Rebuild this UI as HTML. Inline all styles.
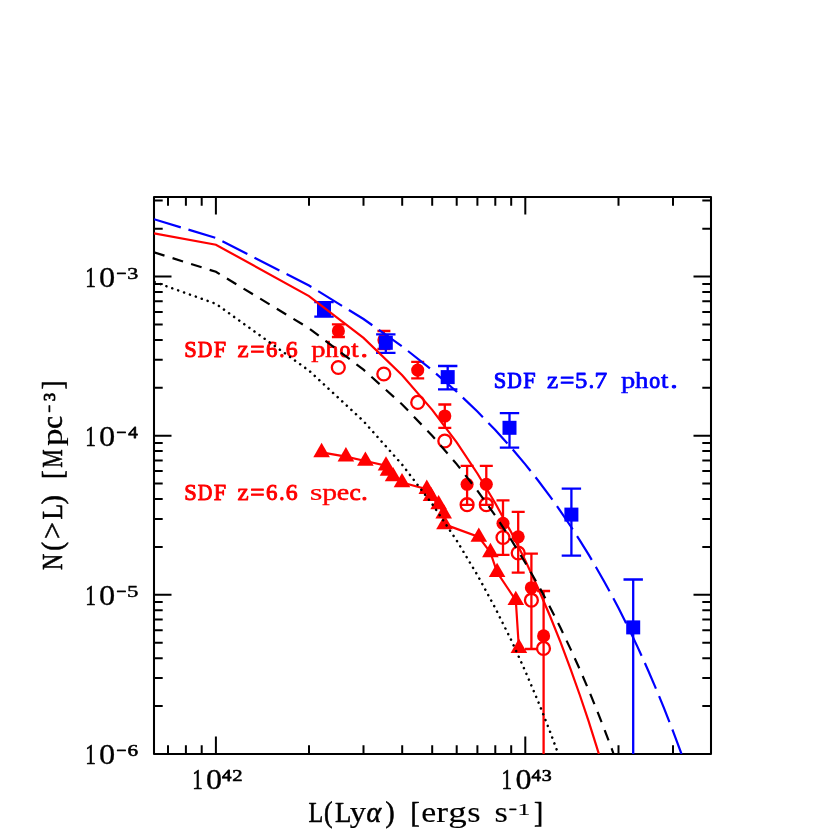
<!DOCTYPE html><html><head><meta charset="utf-8"><title>Cumulative Ly-alpha luminosity function</title><style>html,body{margin:0;padding:0;background:#fff}svg{display:block;will-change:transform}text{font-family:"Liberation Serif",serif}</style></head><body>
<svg width="830" height="830" viewBox="0 0 830 830">
<rect width="830" height="830" fill="#fff"/>
<text fill="#f00" stroke="#f00" stroke-linejoin="round"><tspan x="184.20" y="356.80" textLength="12.50" lengthAdjust="spacingAndGlyphs" font-size="23.5px" stroke-width="1.00">S</tspan><tspan x="197.72" y="356.80" textLength="14.59" lengthAdjust="spacingAndGlyphs" font-size="23.5px" stroke-width="1.00">D</tspan><tspan x="213.76" y="356.80" textLength="12.34" lengthAdjust="spacingAndGlyphs" font-size="23.5px" stroke-width="1.00">F</tspan> <tspan x="237.53" y="356.80" textLength="11.17" lengthAdjust="spacingAndGlyphs" font-size="23.5px" stroke-width="0.80">z</tspan><tspan x="250.34" y="356.80" textLength="14.30" lengthAdjust="spacingAndGlyphs" font-size="23.5px" stroke-width="1.00">=</tspan><tspan x="266.01" y="356.80" textLength="11.47" lengthAdjust="spacingAndGlyphs" font-size="23.5px" stroke-width="1.00">6</tspan><tspan x="279.21" y="356.80" textLength="5.29" lengthAdjust="spacingAndGlyphs" font-size="23.5px" stroke-width="1.00">.</tspan><tspan x="285.67" y="356.80" textLength="11.85" lengthAdjust="spacingAndGlyphs" font-size="23.5px" stroke-width="0.98">6</tspan> <tspan x="311.37" y="356.80" textLength="14.31" lengthAdjust="spacingAndGlyphs" font-size="23.5px" stroke-width="0.47">p</tspan><tspan x="325.36" y="356.80" textLength="13.38" lengthAdjust="spacingAndGlyphs" font-size="23.5px" stroke-width="0.64">h</tspan><tspan x="339.57" y="356.80" textLength="10.85" lengthAdjust="spacingAndGlyphs" font-size="23.5px" stroke-width="1.00">o</tspan><tspan x="351.39" y="356.80" textLength="7.33" lengthAdjust="spacingAndGlyphs" font-size="23.5px" stroke-width="0.69">t</tspan><tspan x="360.86" y="356.80" textLength="6.98" lengthAdjust="spacingAndGlyphs" font-size="23.5px" stroke-width="1.00">.</tspan></text>
<text fill="#f00" stroke="#f00" stroke-linejoin="round"><tspan x="184.20" y="499.50" textLength="12.50" lengthAdjust="spacingAndGlyphs" font-size="23.5px" stroke-width="1.00">S</tspan><tspan x="197.72" y="499.50" textLength="14.59" lengthAdjust="spacingAndGlyphs" font-size="23.5px" stroke-width="1.00">D</tspan><tspan x="213.76" y="499.50" textLength="12.34" lengthAdjust="spacingAndGlyphs" font-size="23.5px" stroke-width="1.00">F</tspan> <tspan x="237.53" y="499.50" textLength="11.17" lengthAdjust="spacingAndGlyphs" font-size="23.5px" stroke-width="0.80">z</tspan><tspan x="250.34" y="499.50" textLength="14.30" lengthAdjust="spacingAndGlyphs" font-size="23.5px" stroke-width="1.00">=</tspan><tspan x="266.01" y="499.50" textLength="11.47" lengthAdjust="spacingAndGlyphs" font-size="23.5px" stroke-width="1.00">6</tspan><tspan x="279.21" y="499.50" textLength="5.29" lengthAdjust="spacingAndGlyphs" font-size="23.5px" stroke-width="1.00">.</tspan><tspan x="285.67" y="499.50" textLength="11.85" lengthAdjust="spacingAndGlyphs" font-size="23.5px" stroke-width="0.98">6</tspan> <tspan x="309.83" y="499.50" textLength="12.78" lengthAdjust="spacingAndGlyphs" font-size="23.5px" stroke-width="0.15">s</tspan><tspan x="322.21" y="499.50" textLength="14.87" lengthAdjust="spacingAndGlyphs" font-size="23.5px" stroke-width="0.37">p</tspan><tspan x="336.86" y="499.50" textLength="12.45" lengthAdjust="spacingAndGlyphs" font-size="23.5px" stroke-width="0.52">e</tspan><tspan x="349.62" y="499.50" textLength="11.27" lengthAdjust="spacingAndGlyphs" font-size="23.5px" stroke-width="0.78">c</tspan><tspan x="361.33" y="499.50" textLength="6.35" lengthAdjust="spacingAndGlyphs" font-size="23.5px" stroke-width="1.00">.</tspan></text>
<text fill="#00f" stroke="#00f" stroke-linejoin="round"><tspan x="493.80" y="387.90" textLength="12.50" lengthAdjust="spacingAndGlyphs" font-size="23.5px" stroke-width="1.00">S</tspan><tspan x="507.32" y="387.90" textLength="14.59" lengthAdjust="spacingAndGlyphs" font-size="23.5px" stroke-width="1.00">D</tspan><tspan x="523.36" y="387.90" textLength="12.34" lengthAdjust="spacingAndGlyphs" font-size="23.5px" stroke-width="1.00">F</tspan> <tspan x="547.13" y="387.90" textLength="11.17" lengthAdjust="spacingAndGlyphs" font-size="23.5px" stroke-width="0.80">z</tspan><tspan x="559.94" y="387.90" textLength="14.30" lengthAdjust="spacingAndGlyphs" font-size="23.5px" stroke-width="1.00">=</tspan><tspan x="575.10" y="387.90" textLength="12.34" lengthAdjust="spacingAndGlyphs" font-size="23.5px" stroke-width="0.86">5</tspan><tspan x="588.81" y="387.90" textLength="5.29" lengthAdjust="spacingAndGlyphs" font-size="23.5px" stroke-width="1.00">.</tspan><tspan x="594.50" y="387.90" textLength="12.75" lengthAdjust="spacingAndGlyphs" font-size="23.5px" stroke-width="0.77">7</tspan> <tspan x="620.97" y="387.90" textLength="14.31" lengthAdjust="spacingAndGlyphs" font-size="23.5px" stroke-width="0.47">p</tspan><tspan x="634.96" y="387.90" textLength="13.38" lengthAdjust="spacingAndGlyphs" font-size="23.5px" stroke-width="0.64">h</tspan><tspan x="649.17" y="387.90" textLength="10.85" lengthAdjust="spacingAndGlyphs" font-size="23.5px" stroke-width="1.00">o</tspan><tspan x="660.99" y="387.90" textLength="7.33" lengthAdjust="spacingAndGlyphs" font-size="23.5px" stroke-width="0.69">t</tspan><tspan x="670.46" y="387.90" textLength="6.98" lengthAdjust="spacingAndGlyphs" font-size="23.5px" stroke-width="1.00">.</tspan></text>
<path d="M168.0 754.0v-8.7M168.0 197.0v8.7M185.9 754.0v-8.7M185.9 197.0v8.7M201.7 754.0v-8.7M201.7 197.0v8.7M215.9 754.0v-17.5M215.9 197.0v17.5M309.0 754.0v-8.7M309.0 197.0v8.7M363.5 754.0v-8.7M363.5 197.0v8.7M402.2 754.0v-8.7M402.2 197.0v8.7M432.2 754.0v-8.7M432.2 197.0v8.7M456.7 754.0v-8.7M456.7 197.0v8.7M477.4 754.0v-8.7M477.4 197.0v8.7M495.3 754.0v-8.7M495.3 197.0v8.7M511.2 754.0v-8.7M511.2 197.0v8.7M525.3 754.0v-17.5M525.3 197.0v17.5M618.5 754.0v-8.7M618.5 197.0v8.7M673.0 754.0v-8.7M673.0 197.0v8.7M154.0 276.6h17.5M711.0 276.6h-17.5M154.0 228.7h8.7M711.0 228.7h-8.7M154.0 200.6h8.7M711.0 200.6h-8.7M154.0 435.7h17.5M711.0 435.7h-17.5M154.0 387.8h8.7M711.0 387.8h-8.7M154.0 359.8h8.7M711.0 359.8h-8.7M154.0 339.9h8.7M711.0 339.9h-8.7M154.0 324.5h8.7M711.0 324.5h-8.7M154.0 311.9h8.7M711.0 311.9h-8.7M154.0 301.2h8.7M711.0 301.2h-8.7M154.0 292.0h8.7M711.0 292.0h-8.7M154.0 283.9h8.7M711.0 283.9h-8.7M154.0 594.8h17.5M711.0 594.8h-17.5M154.0 546.9h8.7M711.0 546.9h-8.7M154.0 518.9h8.7M711.0 518.9h-8.7M154.0 499.0h8.7M711.0 499.0h-8.7M154.0 483.6h8.7M711.0 483.6h-8.7M154.0 471.0h8.7M711.0 471.0h-8.7M154.0 460.4h8.7M711.0 460.4h-8.7M154.0 451.1h8.7M711.0 451.1h-8.7M154.0 443.0h8.7M711.0 443.0h-8.7M154.0 754.0h17.5M711.0 754.0h-17.5M154.0 706.1h8.7M711.0 706.1h-8.7M154.0 678.1h8.7M711.0 678.1h-8.7M154.0 658.2h8.7M711.0 658.2h-8.7M154.0 642.8h8.7M711.0 642.8h-8.7M154.0 630.2h8.7M711.0 630.2h-8.7M154.0 619.5h8.7M711.0 619.5h-8.7M154.0 610.3h8.7M711.0 610.3h-8.7M154.0 602.1h8.7M711.0 602.1h-8.7" stroke="#000" stroke-width="2.0" fill="none"/>
<rect x="154.0" y="197.0" width="557.0" height="557.0" fill="none" stroke="#000" stroke-width="2.05" stroke-linejoin="round"/>
<text fill="#000" stroke="#000" stroke-linejoin="round"><tspan x="85.13" y="286.57" textLength="10.65" lengthAdjust="spacingAndGlyphs" font-size="29.0px" stroke-width="0.60">1</tspan><tspan x="99.11" y="286.57" textLength="16.18" lengthAdjust="spacingAndGlyphs" font-size="29.0px" stroke-width="0.28">0</tspan><tspan x="116.53" y="278.77" textLength="9.82" lengthAdjust="spacingAndGlyphs" font-size="17.5px" stroke-width="1.00">−</tspan><tspan x="127.39" y="278.77" textLength="11.03" lengthAdjust="spacingAndGlyphs" font-size="17.5px" stroke-width="0.49">3</tspan></text>
<text fill="#000" stroke="#000" stroke-linejoin="round"><tspan x="85.13" y="445.71" textLength="10.65" lengthAdjust="spacingAndGlyphs" font-size="29.0px" stroke-width="0.60">1</tspan><tspan x="99.11" y="445.71" textLength="16.18" lengthAdjust="spacingAndGlyphs" font-size="29.0px" stroke-width="0.28">0</tspan><tspan x="116.53" y="437.91" textLength="9.82" lengthAdjust="spacingAndGlyphs" font-size="17.5px" stroke-width="1.00">−</tspan><tspan x="128.24" y="437.91" textLength="9.44" lengthAdjust="spacingAndGlyphs" font-size="17.5px" stroke-width="0.82">4</tspan></text>
<text fill="#000" stroke="#000" stroke-linejoin="round"><tspan x="85.13" y="604.85" textLength="10.65" lengthAdjust="spacingAndGlyphs" font-size="29.0px" stroke-width="0.60">1</tspan><tspan x="99.11" y="604.85" textLength="16.18" lengthAdjust="spacingAndGlyphs" font-size="29.0px" stroke-width="0.28">0</tspan><tspan x="116.53" y="597.05" textLength="9.82" lengthAdjust="spacingAndGlyphs" font-size="17.5px" stroke-width="1.00">−</tspan><tspan x="127.09" y="597.05" textLength="11.38" lengthAdjust="spacingAndGlyphs" font-size="17.5px" stroke-width="0.43">5</tspan></text>
<text fill="#000" stroke="#000" stroke-linejoin="round"><tspan x="85.13" y="763.99" textLength="10.65" lengthAdjust="spacingAndGlyphs" font-size="29.0px" stroke-width="0.60">1</tspan><tspan x="99.11" y="763.99" textLength="16.18" lengthAdjust="spacingAndGlyphs" font-size="29.0px" stroke-width="0.28">0</tspan><tspan x="116.53" y="756.19" textLength="9.82" lengthAdjust="spacingAndGlyphs" font-size="17.5px" stroke-width="1.00">−</tspan><tspan x="127.58" y="756.19" textLength="10.56" lengthAdjust="spacingAndGlyphs" font-size="17.5px" stroke-width="0.58">6</tspan></text>
<text fill="#000" stroke="#000" stroke-linejoin="round"><tspan x="192.14" y="788.60" textLength="10.51" lengthAdjust="spacingAndGlyphs" font-size="29.0px" stroke-width="0.60">1</tspan><tspan x="206.12" y="788.60" textLength="16.03" lengthAdjust="spacingAndGlyphs" font-size="29.0px" stroke-width="0.31">0</tspan><tspan x="222.13" y="780.50" textLength="9.44" lengthAdjust="spacingAndGlyphs" font-size="17.5px" stroke-width="0.82">4</tspan><tspan x="232.30" y="780.50" textLength="10.32" lengthAdjust="spacingAndGlyphs" font-size="17.5px" stroke-width="0.63">2</tspan></text>
<text fill="#000" stroke="#000" stroke-linejoin="round"><tspan x="501.58" y="788.60" textLength="10.51" lengthAdjust="spacingAndGlyphs" font-size="29.0px" stroke-width="0.60">1</tspan><tspan x="515.56" y="788.60" textLength="16.03" lengthAdjust="spacingAndGlyphs" font-size="29.0px" stroke-width="0.31">0</tspan><tspan x="531.57" y="780.50" textLength="9.44" lengthAdjust="spacingAndGlyphs" font-size="17.5px" stroke-width="0.82">4</tspan><tspan x="541.74" y="780.50" textLength="9.91" lengthAdjust="spacingAndGlyphs" font-size="17.5px" stroke-width="0.71">3</tspan></text>
<text fill="#000" stroke="#000" stroke-linejoin="round"><tspan x="308.60" y="822.20" textLength="14.75" lengthAdjust="spacingAndGlyphs" font-size="28.5px" stroke-width="0.60">L</tspan><tspan x="323.97" y="822.20" textLength="8.56" lengthAdjust="spacingAndGlyphs" font-size="28.5px" stroke-width="0.60">(</tspan><tspan x="334.93" y="822.20" textLength="16.38" lengthAdjust="spacingAndGlyphs" font-size="28.5px" stroke-width="0.60">L</tspan><tspan x="349.71" y="822.20" textLength="16.30" lengthAdjust="spacingAndGlyphs" font-size="28.5px" stroke-width="0.22">y</tspan><tspan x="366.46" y="822.20" textLength="14.77" lengthAdjust="spacingAndGlyphs" font-size="28.5px" stroke-width="0.60" font-style="italic">α</tspan><tspan x="385.52" y="822.20" textLength="9.08" lengthAdjust="spacingAndGlyphs" font-size="28.5px" stroke-width="0.60">)</tspan> <tspan x="410.57" y="822.20" textLength="9.12" lengthAdjust="spacingAndGlyphs" font-size="28.5px" stroke-width="0.60">[</tspan><tspan x="421.35" y="822.20" textLength="14.94" lengthAdjust="spacingAndGlyphs" font-size="28.5px" stroke-width="0.14">e</tspan><tspan x="436.34" y="822.20" textLength="11.82" lengthAdjust="spacingAndGlyphs" font-size="28.5px" stroke-width="0.10">r</tspan><tspan x="448.16" y="822.20" textLength="18.49" lengthAdjust="spacingAndGlyphs" font-size="28.5px" stroke-width="0.10">g</tspan><tspan x="467.34" y="822.20" textLength="13.35" lengthAdjust="spacingAndGlyphs" font-size="28.5px" stroke-width="0.10">s</tspan> <tspan x="494.44" y="822.20" textLength="13.35" lengthAdjust="spacingAndGlyphs" font-size="28.5px" stroke-width="0.10">s</tspan><tspan x="509.07" y="815.10" textLength="7.76" lengthAdjust="spacingAndGlyphs" font-size="17.5px" stroke-width="0.90">−</tspan><tspan x="517.33" y="815.10" textLength="13.21" lengthAdjust="spacingAndGlyphs" font-size="17.5px" stroke-width="0.10">1</tspan><tspan x="533.91" y="822.20" textLength="9.12" lengthAdjust="spacingAndGlyphs" font-size="28.5px" stroke-width="0.60">]</tspan></text>
<g transform="translate(62.2,569.6) rotate(-90)"><text fill="#000" stroke="#000" stroke-linejoin="round"><tspan x="-0.35" y="0.00" textLength="16.27" lengthAdjust="spacingAndGlyphs" font-size="29.0px" stroke-width="0.60">N</tspan><tspan x="18.84" y="0.00" textLength="8.82" lengthAdjust="spacingAndGlyphs" font-size="29.0px" stroke-width="0.60">(</tspan><tspan x="30.61" y="0.00" textLength="16.98" lengthAdjust="spacingAndGlyphs" font-size="29.0px" stroke-width="0.49">&gt;</tspan><tspan x="50.17" y="0.00" textLength="15.56" lengthAdjust="spacingAndGlyphs" font-size="29.0px" stroke-width="0.60">L</tspan><tspan x="65.32" y="0.00" textLength="9.08" lengthAdjust="spacingAndGlyphs" font-size="29.0px" stroke-width="0.60">)</tspan> <tspan x="90.57" y="0.00" textLength="8.67" lengthAdjust="spacingAndGlyphs" font-size="29.0px" stroke-width="0.60">[</tspan><tspan x="102.11" y="0.00" textLength="18.08" lengthAdjust="spacingAndGlyphs" font-size="29.0px" stroke-width="0.60">M</tspan><tspan x="123.58" y="0.00" textLength="17.54" lengthAdjust="spacingAndGlyphs" font-size="29.0px" stroke-width="0.10">p</tspan><tspan x="140.80" y="0.00" textLength="12.78" lengthAdjust="spacingAndGlyphs" font-size="29.0px" stroke-width="0.60">c</tspan><tspan x="157.08" y="-7.60" textLength="7.64" lengthAdjust="spacingAndGlyphs" font-size="17.5px" stroke-width="0.90">−</tspan><tspan x="168.35" y="-7.60" textLength="8.35" lengthAdjust="spacingAndGlyphs" font-size="17.5px" stroke-width="0.90">3</tspan><tspan x="180.01" y="0.00" textLength="9.12" lengthAdjust="spacingAndGlyphs" font-size="29.0px" stroke-width="0.60">]</tspan></text></g>
<clipPath id="c"><rect x="154.0" y="197.0" width="557.0" height="557.0"/></clipPath>
<g clip-path="url(#c)" fill="none" stroke-width="2.2">
<circle cx="338.3" cy="367.5" r="6.45" stroke="#f00" stroke-width="2.3"/>
<circle cx="383.8" cy="374.0" r="6.45" stroke="#f00" stroke-width="2.3"/>
<circle cx="417.7" cy="402.4" r="6.45" stroke="#f00" stroke-width="2.3"/>
<circle cx="444.8" cy="441.0" r="6.45" stroke="#f00" stroke-width="2.3"/>
<circle cx="467.1" cy="504.7" r="6.45" stroke="#f00" stroke-width="2.3"/>
<circle cx="486.3" cy="504.7" r="6.45" stroke="#f00" stroke-width="2.3"/>
<circle cx="503.0" cy="537.5" r="6.45" stroke="#f00" stroke-width="2.3"/>
<circle cx="518.2" cy="553.0" r="6.45" stroke="#f00" stroke-width="2.3"/>
<circle cx="531.4" cy="600.2" r="6.45" stroke="#f00" stroke-width="2.3"/>
<circle cx="543.5" cy="648.4" r="6.45" stroke="#f00" stroke-width="2.3"/>
<path d="M338.4 324.4V337.0M331.9 324.4h13M331.9 337.0h13M383.9 331.0V349.0M377.4 331.0h13M377.4 349.0h13M417.7 361.8V378.3M411.2 361.8h13M411.2 378.3h13M444.8 404.5V427.9M438.3 404.5h13M438.3 427.9h13M467.1 465.8V504.8M460.6 465.8h13M460.6 504.8h13M486.3 465.8V504.8M479.8 465.8h13M479.8 504.8h13M503.0 500.3V554.9M496.5 500.3h13M496.5 554.9h13M518.2 511.8V572.7M511.7 511.8h13M511.7 572.7h13M531.4 553.6V649.0M524.9 553.6h13M524.9 649.0h13M543.6 591.0V800.0M537.1 591.0h13M537.1 800.0h13" stroke="#f00" stroke-width="2.3"/>
<circle cx="338.4" cy="330.9" r="6.55" fill="#f00"/>
<circle cx="383.9" cy="340.0" r="6.55" fill="#f00"/>
<circle cx="417.7" cy="370.1" r="6.55" fill="#f00"/>
<circle cx="444.8" cy="416.0" r="6.55" fill="#f00"/>
<circle cx="467.1" cy="484.3" r="6.55" fill="#f00"/>
<circle cx="486.3" cy="484.3" r="6.55" fill="#f00"/>
<circle cx="503.0" cy="523.3" r="6.55" fill="#f00"/>
<circle cx="518.2" cy="536.8" r="6.55" fill="#f00"/>
<circle cx="531.4" cy="587.7" r="6.55" fill="#f00"/>
<circle cx="543.6" cy="635.9" r="6.55" fill="#f00"/>
<path d="M324.0 302.2V316.6M314.3 302.2h19.4M314.3 316.6h19.4M385.8 334.3V352.8M376.1 334.3h19.4M376.1 352.8h19.4M447.7 366.0V389.3M438.0 366.0h19.4M438.0 389.3h19.4M509.5 413.2V447.6M499.8 413.2h19.4M499.8 447.6h19.4M571.4 488.6V555.6M561.7 488.6h19.4M561.7 555.6h19.4M633.2 579.5V800.0M623.5 579.5h19.4M623.5 800.0h19.4" stroke="#00f" stroke-width="2.3"/>
<rect x="317.0" y="302.0" width="14" height="14" fill="#00f"/>
<rect x="378.8" y="335.8" width="14" height="14" fill="#00f"/>
<rect x="440.7" y="370.1" width="14" height="14" fill="#00f"/>
<rect x="502.5" y="420.8" width="14" height="14" fill="#00f"/>
<rect x="564.4" y="507.6" width="14" height="14" fill="#00f"/>
<rect x="626.2" y="620.4" width="14" height="14" fill="#00f"/>
<polyline points="321.6,452.4 345.9,456.6 365.4,461.0 386.0,465.8 388.0,470.9 393.1,476.5 402.0,482.5 426.8,489.1 431.0,496.3 438.6,504.5 443.7,513.7 444.5,524.4 478.8,537.0 490.4,552.4 497.1,572.3 515.8,600.3 518.9,648.2" stroke="#f00"/>
<path d="M321.6 442.8L329.9 457.2L313.3 457.2Z" fill="#f00"/>
<path d="M345.9 447.0L354.2 461.4L337.6 461.4Z" fill="#f00"/>
<path d="M365.4 451.4L373.7 465.8L357.1 465.8Z" fill="#f00"/>
<path d="M386.0 456.2L394.3 470.6L377.7 470.6Z" fill="#f00"/>
<path d="M388.0 461.3L396.3 475.7L379.7 475.7Z" fill="#f00"/>
<path d="M393.1 466.9L401.4 481.3L384.8 481.3Z" fill="#f00"/>
<path d="M402.0 472.9L410.3 487.3L393.7 487.3Z" fill="#f00"/>
<path d="M426.8 479.5L435.1 493.9L418.5 493.9Z" fill="#f00"/>
<path d="M431.0 486.7L439.3 501.1L422.7 501.1Z" fill="#f00"/>
<path d="M438.6 494.9L446.9 509.3L430.3 509.3Z" fill="#f00"/>
<path d="M443.7 504.1L452.0 518.5L435.4 518.5Z" fill="#f00"/>
<path d="M444.5 514.8L452.8 529.2L436.2 529.2Z" fill="#f00"/>
<path d="M478.8 527.4L487.1 541.8L470.5 541.8Z" fill="#f00"/>
<path d="M490.4 542.8L498.7 557.2L482.1 557.2Z" fill="#f00"/>
<path d="M497.1 562.7L505.4 577.1L488.8 577.1Z" fill="#f00"/>
<path d="M515.8 590.7L524.1 605.1L507.5 605.1Z" fill="#f00"/>
<path d="M518.9 638.6L527.2 653.0L510.6 653.0Z" fill="#f00"/>
<polyline points="154.0,233.4 215.9,244.7 309.0,296.1 363.5,337.9 402.2,375.2 432.2,409.9 456.7,442.4 477.4,473.5 495.3,503.3 511.2,532.3 525.3,560.5 538.1,588.2 549.8,615.5 560.6,642.3 570.5,668.8 579.8,695.0 588.5,720.9 596.6,746.6 598.9,754.0" stroke="#f00"/>
<polyline points="154.0,252.3 215.9,271.8 309.0,328.3 363.5,369.7 402.2,404.5 432.2,435.7 456.7,464.1 477.4,490.6 495.3,515.7 511.2,539.8 525.3,562.8 538.1,584.9 549.8,606.7 560.6,628.1 570.5,648.9 579.8,669.4 588.5,689.6 596.6,709.5 604.3,729.1 611.6,748.4 613.6,754.0" stroke="#000" stroke-dasharray="11 8.45" stroke-dashoffset="0.0"/>
<polyline points="154.0,281.8 215.9,303.8 309.0,370.6 363.5,421.2 402.2,464.7 432.2,504.0 456.7,540.5 477.4,575.1 495.3,608.2 511.2,640.1 525.3,671.2 538.1,701.4 549.8,731.0 558.3,754.0" stroke="#000" stroke-dasharray="0.1 6.15" stroke-linecap="round" stroke-width="2.5" stroke-dashoffset="-0.6"/>
<polyline points="154.0,219.2 215.9,238.0 309.0,285.5 363.5,319.0 402.2,346.4 432.2,370.2 456.7,391.7 477.4,411.5 495.3,430.0 511.2,447.6 525.3,464.4 538.1,480.5 549.8,496.1 560.6,511.3 570.5,526.0 579.8,540.3 588.5,554.4 596.6,568.2 604.3,581.7 611.6,595.0 618.5,608.1 625.0,621.0 631.3,633.8 637.3,646.4 643.0,658.8 648.5,671.2 653.7,683.4 658.8,695.4 663.7,707.4 668.4,719.3 673.0,731.1 677.4,742.8 681.5,754.0" stroke="#00f" stroke-dasharray="28 8"/>
</g>
</svg></body></html>
